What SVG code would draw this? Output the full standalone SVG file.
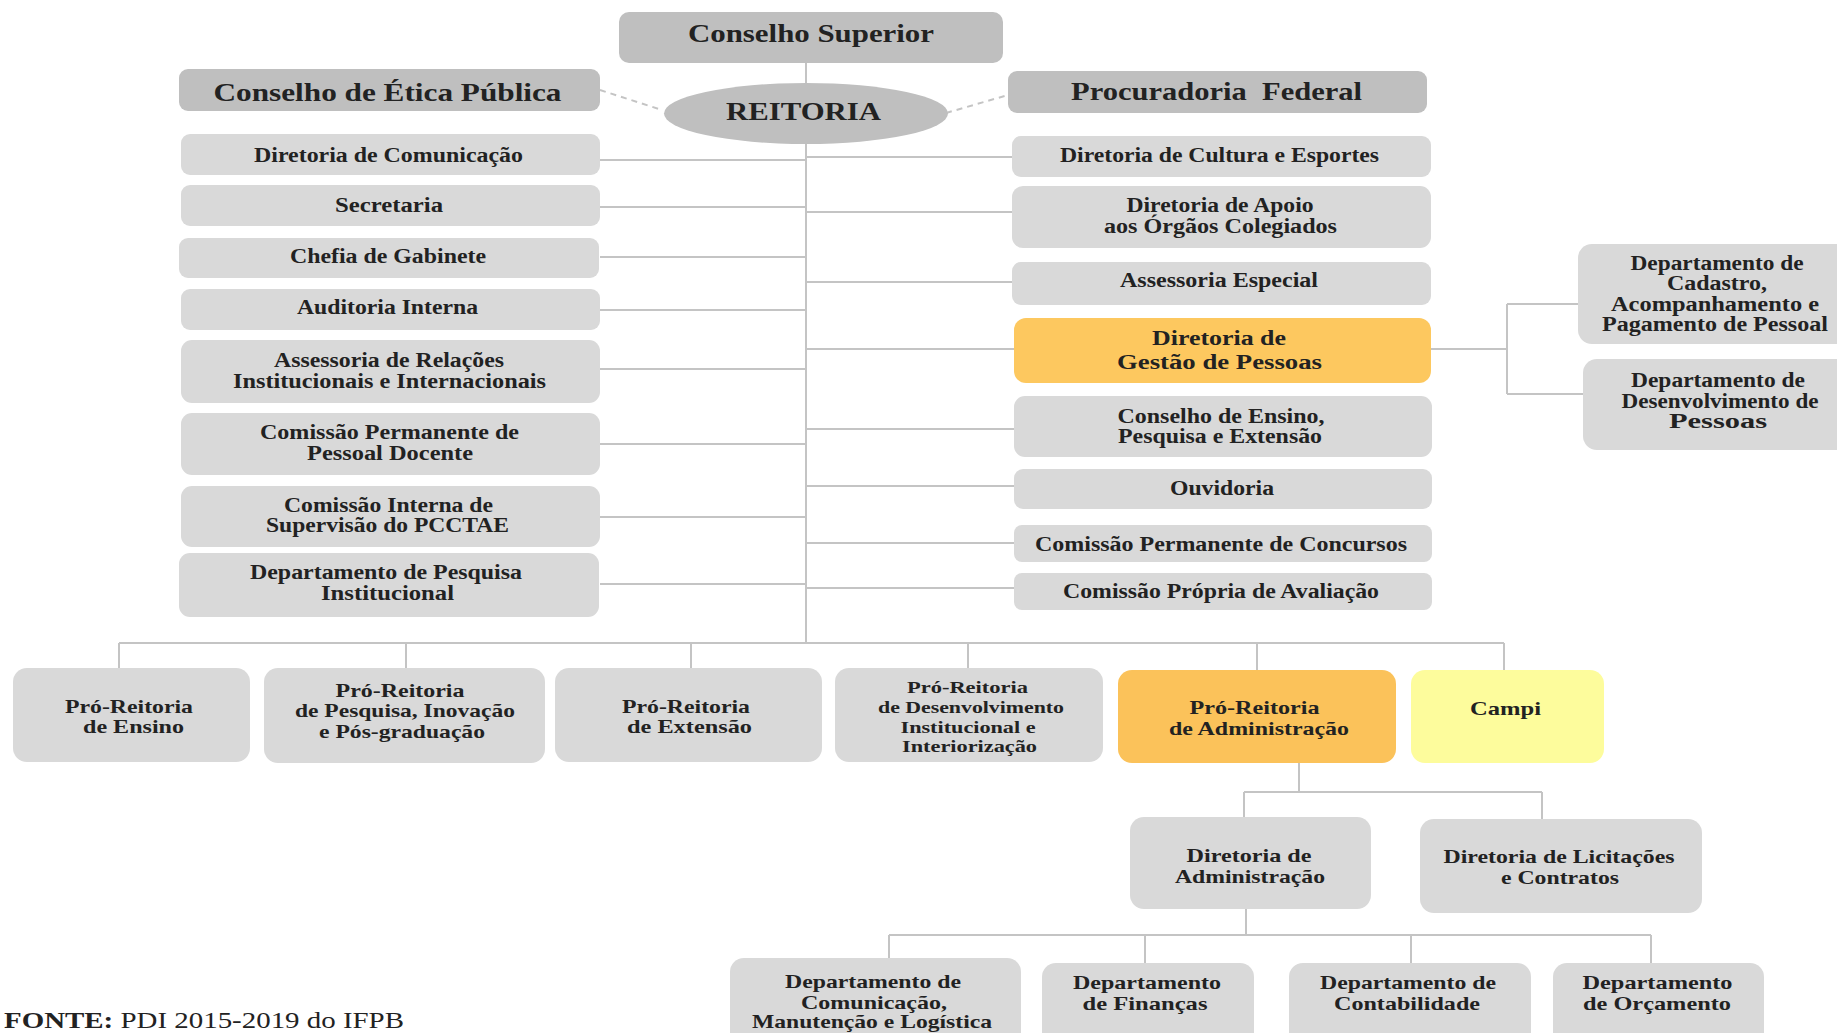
<svg xmlns="http://www.w3.org/2000/svg" width="1837" height="1033" viewBox="0 0 1837 1033">
<style>
.b{fill:#d9d9d9}
.d{fill:#bfbfbf}
.o{fill:#fdc85f}
.o2{fill:#fbc25a}
.y{fill:#fdfc9c}
text{font-family:"Liberation Serif","Times New Roman",serif;font-weight:bold;fill:#222;text-anchor:middle;font-size:20px}
.h{font-size:25px}
.s{font-size:19px}
.xs{font-size:16px}
.c line,.c path{stroke:#c4c4c4;stroke-width:2;fill:none}
.c .dash{stroke-dasharray:6 5}
</style>
<rect width="1837" height="1033" fill="#ffffff"/>
<g class="c" id="connectors">
<line x1="806" y1="63" x2="806" y2="84"/>
<line x1="806" y1="144" x2="806" y2="643"/>
<line class="dash" x1="600" y1="90" x2="662" y2="110"/>
<line class="dash" x1="946" y1="113" x2="1008" y2="95"/>
<path d="M600 160H806M600 207H806M600 257H806M600 310H806M600 369H806M600 444H806M600 517H806M600 584H806"/>
<path d="M806 157H1012M806 212H1012M806 282H1012M806 349H1014M806 429H1014M806 486H1014M806 543H1014M806 588H1014"/>
<path d="M1431 349H1507M1507 304V394M1507 304H1578M1507 394H1583"/>
<path d="M119 643H1504M119 643V668M406 643V668M691 643V668M968 643V668M1257 643V670M1504 643V670"/>
<path d="M1299 763V792M1244 792H1542M1244 792V817M1542 792V819"/>
<path d="M1246 909V935M889 935H1651M889 935V958M1145 935V963M1411 935V963M1651 935V963"/>
</g>
<g id="conselho-superior"><rect class="d" x="619" y="12" width="384" height="51" rx="10"/><text class="h" x="811" y="42" textLength="246" lengthAdjust="spacingAndGlyphs">Conselho Superior</text></g>
<g id="conselho-etica"><rect class="d" x="179" y="69" width="421" height="42" rx="9"/><text class="h" x="387.5" y="101" textLength="348" lengthAdjust="spacingAndGlyphs">Conselho de Ética Pública</text></g>
<g id="procuradoria"><rect class="d" x="1008" y="71" width="419" height="42" rx="9"/><text class="h" x="1216.5" y="100" textLength="291" lengthAdjust="spacingAndGlyphs" xml:space="preserve">Procuradoria  Federal</text></g>
<g id="reitoria"><ellipse class="d" cx="806" cy="113.5" rx="142" ry="30.5"/><text class="h" x="803.5" y="120" textLength="155" lengthAdjust="spacingAndGlyphs">REITORIA</text></g>

<g id="dir-comunicacao"><rect class="b" x="181" y="134" width="419" height="41" rx="9"/><text x="388.5" y="162" textLength="269" lengthAdjust="spacingAndGlyphs">Diretoria de Comunicação</text></g>
<g id="secretaria"><rect class="b" x="181" y="185" width="419" height="41" rx="9"/><text x="389" y="212" textLength="108" lengthAdjust="spacingAndGlyphs">Secretaria</text></g>
<g id="chefia"><rect class="b" x="179" y="238" width="420" height="40" rx="9"/><text x="388" y="263" textLength="196" lengthAdjust="spacingAndGlyphs">Chefia de Gabinete</text></g>
<g id="auditoria"><rect class="b" x="181" y="289" width="419" height="41" rx="9"/><text x="387.5" y="314" textLength="181" lengthAdjust="spacingAndGlyphs">Auditoria Interna</text></g>
<g id="assessoria-rel"><rect class="b" x="181" y="340" width="419" height="63" rx="11"/><text x="389" y="367" textLength="230" lengthAdjust="spacingAndGlyphs">Assessoria de Relações</text><text x="389.5" y="388" textLength="313" lengthAdjust="spacingAndGlyphs">Institucionais e Internacionais</text></g>
<g id="comissao-docente"><rect class="b" x="181" y="413" width="419" height="62" rx="11"/><text x="389.5" y="439" textLength="259" lengthAdjust="spacingAndGlyphs">Comissão Permanente de</text><text x="390" y="460" textLength="166" lengthAdjust="spacingAndGlyphs">Pessoal Docente</text></g>
<g id="comissao-pcctae"><rect class="b" x="181" y="486" width="419" height="61" rx="11"/><text x="388.5" y="512" textLength="209" lengthAdjust="spacingAndGlyphs">Comissão Interna de</text><text x="387.5" y="532" textLength="243" lengthAdjust="spacingAndGlyphs">Supervisão do PCCTAE</text></g>
<g id="depto-pesquisa"><rect class="b" x="179" y="553" width="420" height="64" rx="11"/><text x="386" y="579" textLength="272" lengthAdjust="spacingAndGlyphs">Departamento de Pesquisa</text><text x="387.5" y="600" textLength="133" lengthAdjust="spacingAndGlyphs">Institucional</text></g>

<g id="dir-cultura"><rect class="b" x="1012" y="136" width="419" height="41" rx="9"/><text x="1219.5" y="162" textLength="319" lengthAdjust="spacingAndGlyphs">Diretoria de Cultura e Esportes</text></g>
<g id="dir-apoio"><rect class="b" x="1012" y="186" width="419" height="62" rx="11"/><text x="1220" y="212" textLength="187" lengthAdjust="spacingAndGlyphs">Diretoria de Apoio</text><text x="1220.5" y="233" textLength="233" lengthAdjust="spacingAndGlyphs">aos Órgãos Colegiados</text></g>
<g id="assessoria-esp"><rect class="b" x="1012" y="262" width="419" height="43" rx="9"/><text x="1219" y="287" textLength="198" lengthAdjust="spacingAndGlyphs">Assessoria Especial</text></g>
<g id="gestao-pessoas"><rect class="o" x="1014" y="318" width="417" height="65" rx="12"/><text x="1219" y="345" textLength="134" lengthAdjust="spacingAndGlyphs">Diretoria de</text><text x="1219.5" y="369" textLength="205" lengthAdjust="spacingAndGlyphs">Gestão de Pessoas</text></g>
<g id="conselho-ensino"><rect class="b" x="1014" y="396" width="418" height="61" rx="11"/><text x="1221" y="423" textLength="207" lengthAdjust="spacingAndGlyphs">Conselho de Ensino,</text><text x="1220" y="443" textLength="204" lengthAdjust="spacingAndGlyphs">Pesquisa e Extensão</text></g>
<g id="ouvidoria"><rect class="b" x="1014" y="469" width="418" height="40" rx="9"/><text x="1222" y="495" textLength="104" lengthAdjust="spacingAndGlyphs">Ouvidoria</text></g>
<g id="comissao-concursos"><rect class="b" x="1014" y="525" width="418" height="37" rx="8"/><text x="1221" y="551" textLength="372" lengthAdjust="spacingAndGlyphs">Comissão Permanente de Concursos</text></g>
<g id="comissao-avaliacao"><rect class="b" x="1014" y="573" width="418" height="37" rx="8"/><text x="1221" y="598" textLength="316" lengthAdjust="spacingAndGlyphs">Comissão Própria de Avaliação</text></g>

<g id="depto-cadastro"><rect class="b" x="1578" y="244" width="275" height="100" rx="14"/><text x="1717" y="270" textLength="173" lengthAdjust="spacingAndGlyphs">Departamento de</text><text x="1717" y="290" textLength="100" lengthAdjust="spacingAndGlyphs">Cadastro,</text><text x="1715" y="311" textLength="208" lengthAdjust="spacingAndGlyphs">Acompanhamento e</text><text x="1715" y="331" textLength="226" lengthAdjust="spacingAndGlyphs">Pagamento de Pessoal</text></g>
<g id="depto-desenvolvimento"><rect class="b" x="1583" y="359" width="270" height="91" rx="14"/><text x="1718" y="387" textLength="174" lengthAdjust="spacingAndGlyphs">Departamento de</text><text x="1720" y="408" textLength="197" lengthAdjust="spacingAndGlyphs">Desenvolvimento de</text><text x="1718" y="428" textLength="98" lengthAdjust="spacingAndGlyphs">Pessoas</text></g>

<g id="pro-ensino"><rect class="b" x="13" y="668" width="237" height="94" rx="14"/><text class="s" x="129" y="713" textLength="128" lengthAdjust="spacingAndGlyphs">Pró-Reitoria</text><text class="s" x="133.5" y="733" textLength="101" lengthAdjust="spacingAndGlyphs">de Ensino</text></g>
<g id="pro-pesquisa"><rect class="b" x="264" y="668" width="281" height="95" rx="14"/><text class="s" x="400" y="697" textLength="129" lengthAdjust="spacingAndGlyphs">Pró-Reitoria</text><text class="s" x="405" y="717" textLength="220" lengthAdjust="spacingAndGlyphs">de Pesquisa, Inovação</text><text class="s" x="402" y="738" textLength="166" lengthAdjust="spacingAndGlyphs">e Pós-graduação</text></g>
<g id="pro-extensao"><rect class="b" x="555" y="668" width="267" height="94" rx="14"/><text class="s" x="686" y="713" textLength="128" lengthAdjust="spacingAndGlyphs">Pró-Reitoria</text><text class="s" x="689.5" y="733" textLength="125" lengthAdjust="spacingAndGlyphs">de Extensão</text></g>
<g id="pro-desenvolvimento"><rect class="b" x="835" y="668" width="268" height="94" rx="14"/><text class="xs" x="967.5" y="693" textLength="121" lengthAdjust="spacingAndGlyphs">Pró-Reitoria</text><text class="xs" x="971" y="713" textLength="186" lengthAdjust="spacingAndGlyphs">de Desenvolvimento</text><text class="xs" x="968" y="733" textLength="135" lengthAdjust="spacingAndGlyphs">Institucional e</text><text class="xs" x="969.5" y="752" textLength="135" lengthAdjust="spacingAndGlyphs">Interiorização</text></g>
<g id="pro-administracao"><rect class="o2" x="1118" y="670" width="278" height="93" rx="14"/><text class="s" x="1254.5" y="714" textLength="130" lengthAdjust="spacingAndGlyphs">Pró-Reitoria</text><text class="s" x="1259" y="735" textLength="180" lengthAdjust="spacingAndGlyphs">de Administração</text></g>
<g id="campi"><rect class="y" x="1411" y="670" width="193" height="93" rx="14"/><text class="s" x="1505.5" y="715" textLength="71" lengthAdjust="spacingAndGlyphs">Campi</text></g>

<g id="dir-administracao"><rect class="b" x="1130" y="817" width="241" height="92" rx="14"/><text class="s" x="1249" y="862" textLength="125" lengthAdjust="spacingAndGlyphs">Diretoria de</text><text class="s" x="1250" y="883" textLength="150" lengthAdjust="spacingAndGlyphs">Administração</text></g>
<g id="dir-licitacoes"><rect class="b" x="1420" y="819" width="282" height="94" rx="14"/><text class="s" x="1559" y="863" textLength="231" lengthAdjust="spacingAndGlyphs">Diretoria de Licitações</text><text class="s" x="1560" y="884" textLength="118" lengthAdjust="spacingAndGlyphs">e Contratos</text></g>

<g id="depto-comunicacao"><rect class="b" x="730" y="958" width="291" height="95" rx="14"/><text class="s" x="873" y="988" textLength="176" lengthAdjust="spacingAndGlyphs">Departamento de</text><text class="s" x="874" y="1009" textLength="146" lengthAdjust="spacingAndGlyphs">Comunicação,</text><text class="s" x="872" y="1028" textLength="240" lengthAdjust="spacingAndGlyphs">Manutenção e Logística</text></g>
<g id="depto-financas"><rect class="b" x="1042" y="963" width="212" height="90" rx="14"/><text class="s" x="1147" y="989" textLength="148" lengthAdjust="spacingAndGlyphs">Departamento</text><text class="s" x="1145" y="1010" textLength="125" lengthAdjust="spacingAndGlyphs">de Finanças</text></g>
<g id="depto-contabilidade"><rect class="b" x="1289" y="963" width="242" height="90" rx="14"/><text class="s" x="1408" y="989" textLength="176" lengthAdjust="spacingAndGlyphs">Departamento de</text><text class="s" x="1407" y="1010" textLength="146" lengthAdjust="spacingAndGlyphs">Contabilidade</text></g>
<g id="depto-orcamento"><rect class="b" x="1553" y="963" width="211" height="90" rx="14"/><text class="s" x="1657.5" y="989" textLength="150" lengthAdjust="spacingAndGlyphs">Departamento</text><text class="s" x="1657" y="1010" textLength="148" lengthAdjust="spacingAndGlyphs">de Orçamento</text></g>

<text x="4" y="1028" style="text-anchor:start;font-weight:normal;font-size:23px" textLength="400" lengthAdjust="spacingAndGlyphs"><tspan font-weight="bold">FONTE:</tspan> PDI 2015-2019 do IFPB</text>
</svg>
